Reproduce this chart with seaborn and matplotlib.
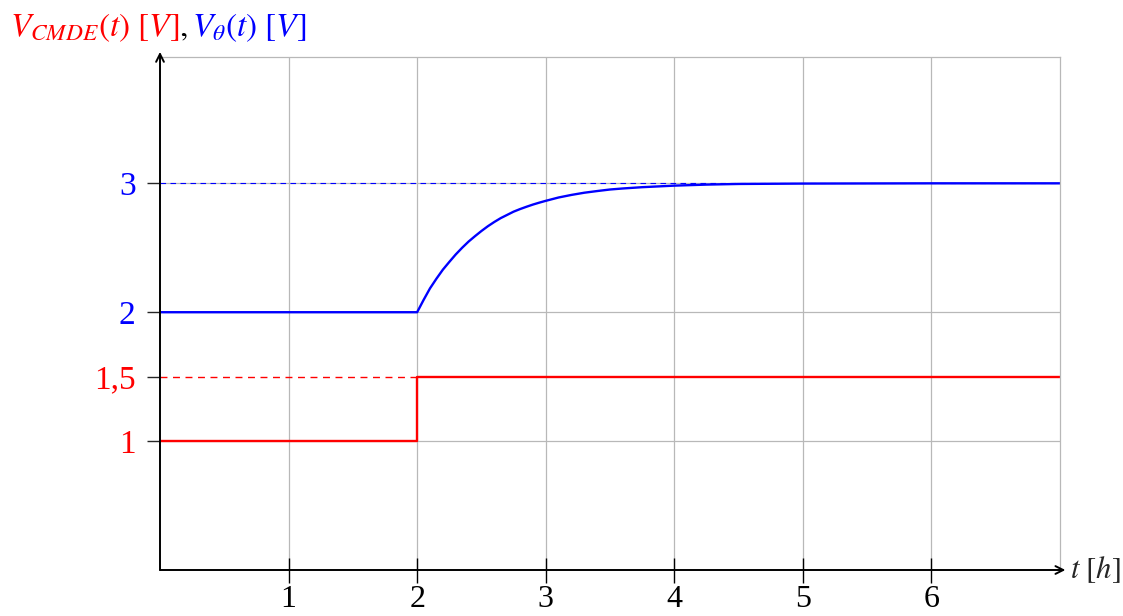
import matplotlib
matplotlib.use("Agg")
import matplotlib.pyplot as plt
import seaborn as sns
import pandas as pd

# ---- data ----
t_theta = [0.0, 2.0, 2.05, 2.1, 2.15, 2.2, 2.25, 2.3, 2.35, 2.4, 2.45, 2.5, 2.55, 2.6,
           2.65, 2.7, 2.75, 2.8, 2.85, 2.9, 2.95, 3.0, 3.1, 3.2, 3.3, 3.4, 3.5, 3.6,
           3.75, 4.0, 4.25, 4.5, 5.0, 6.0, 7.0]
v_theta = [2.0, 2.0, 2.095, 2.185, 2.26, 2.33, 2.39, 2.448, 2.50, 2.548, 2.59, 2.63,
           2.667, 2.70, 2.73, 2.755, 2.78, 2.80, 2.818, 2.835, 2.85, 2.864, 2.89, 2.91,
           2.927, 2.94, 2.952, 2.96, 2.97, 2.982, 2.99, 2.995, 2.998, 3.0, 3.0]
t_cmde = [0.0, 2.0, 7.0]
v_cmde = [1.0, 1.5, 1.5]
x_ticks = [1, 2, 3, 4, 5, 6]
x_ticklabels = ["1", "2", "3", "4", "5", "6"]
y_ticks = [1, 1.5, 2, 3]
y_ticklabels = ["1", "1,5", "2", "3"]
y_tickcolors = ["red", "red", "blue", "blue"]
theta_final = 3.0
cmde_final = 1.5
t_step = 2.0

sns.set_theme(style="white")
plt.rcParams["font.family"] = ["Liberation Serif", "DejaVu Serif"]
plt.rcParams["mathtext.fontset"] = "stix"
plt.rcParams["lines.solid_joinstyle"] = "round"

fig = plt.figure(figsize=(11.23, 6.16), dpi=100)
ax = fig.add_axes([160/1123, 46/616, 900/1123, 513/616])

ax.set_xlim(0, 7)
ax.set_ylim(0, 3.98)

GRID = "#b8b8b8"
ax.set_xticks(x_ticks + [7])
ax.set_xticklabels(x_ticklabels + [""])
ax.set_yticks(y_ticks)
ax.set_yticklabels(y_ticklabels)
ax.grid(True, color=GRID, lw=0.9)
ax.yaxis.get_gridlines()[1].set_visible(False)
ax.xaxis.get_gridlines()[-1].set_visible(False)

for s in ["top", "right"]:
    ax.spines[s].set_color(GRID)
    ax.spines[s].set_linewidth(0.9)
for s in ["left", "bottom"]:
    ax.spines[s].set_visible(False)

ax.tick_params(axis="x", bottom=True, direction="inout", length=18, width=1.0,
               color="black", labelcolor="black", labelsize=23, pad=2)
ax.tick_params(axis="y", left=True, direction="out", length=9.5, width=1.0,
               labelsize=24, pad=8)
ax.xaxis.get_major_ticks()[-1].tick1line.set_visible(False)
for tk, lab, c in zip(ax.yaxis.get_major_ticks(), ax.get_yticklabels(), y_tickcolors):
    tk.tick1line.set_color(c)
    lab.set_color(c)

# reference dashed lines
ax.plot([0, 7], [theta_final, theta_final], ls=(0, (5, 4)), color="blue", lw=0.8)
ax.plot([0, t_step], [cmde_final, cmde_final], ls=(0, (5, 4)), color="red", lw=1.0)

df_theta = pd.DataFrame({"t": t_theta, "v": v_theta})
df_cmde = pd.DataFrame({"t": t_cmde, "v": v_cmde})
sns.lineplot(data=df_cmde, x="t", y="v", ax=ax, color="red", lw=1.7,
             drawstyle="steps-post", estimator=None)
sns.lineplot(data=df_theta, x="t", y="v", ax=ax, color="blue", lw=1.7, estimator=None)
ax.set_xlabel("")
ax.set_ylabel("")

# axes with arrows
ax.annotate("", xy=(1.006, 0), xytext=(0, 0), xycoords="axes fraction",
            arrowprops=dict(arrowstyle="->", lw=1.4, color="black",
                            shrinkA=0, shrinkB=0, mutation_scale=14),
            annotation_clip=False)
ax.annotate("", xy=(0, 1.01), xytext=(0, 0), xycoords="axes fraction",
            arrowprops=dict(arrowstyle="->", lw=1.4, color="black",
                            shrinkA=0, shrinkB=0, mutation_scale=14),
            annotation_clip=False)

fig.text(1070/1123, 1 - 570/616, r"$t\,\,[h]$", fontsize=22, va="center", ha="left")

fs = 24
t1 = fig.text(10/1123, 1 - 28/616, r"$V_{CMDE}(t)\ [V]$", color="red", fontsize=fs,
              va="center", ha="left")
fig.canvas.draw()
r = fig.canvas.get_renderer()
bb = t1.get_window_extent(renderer=r)
t2 = fig.text(bb.x1 / 1123, 1 - 28/616, r"$,$", color="black", fontsize=fs,
              va="center", ha="left")
bb2 = t2.get_window_extent(renderer=r)
fig.text(bb2.x1 / 1123 + 4/1123, 1 - 28/616, r"$V_{\theta}(t)\ [V]$", color="blue",
         fontsize=fs, va="center", ha="left")

fig.savefig("out.png", dpi=100)
